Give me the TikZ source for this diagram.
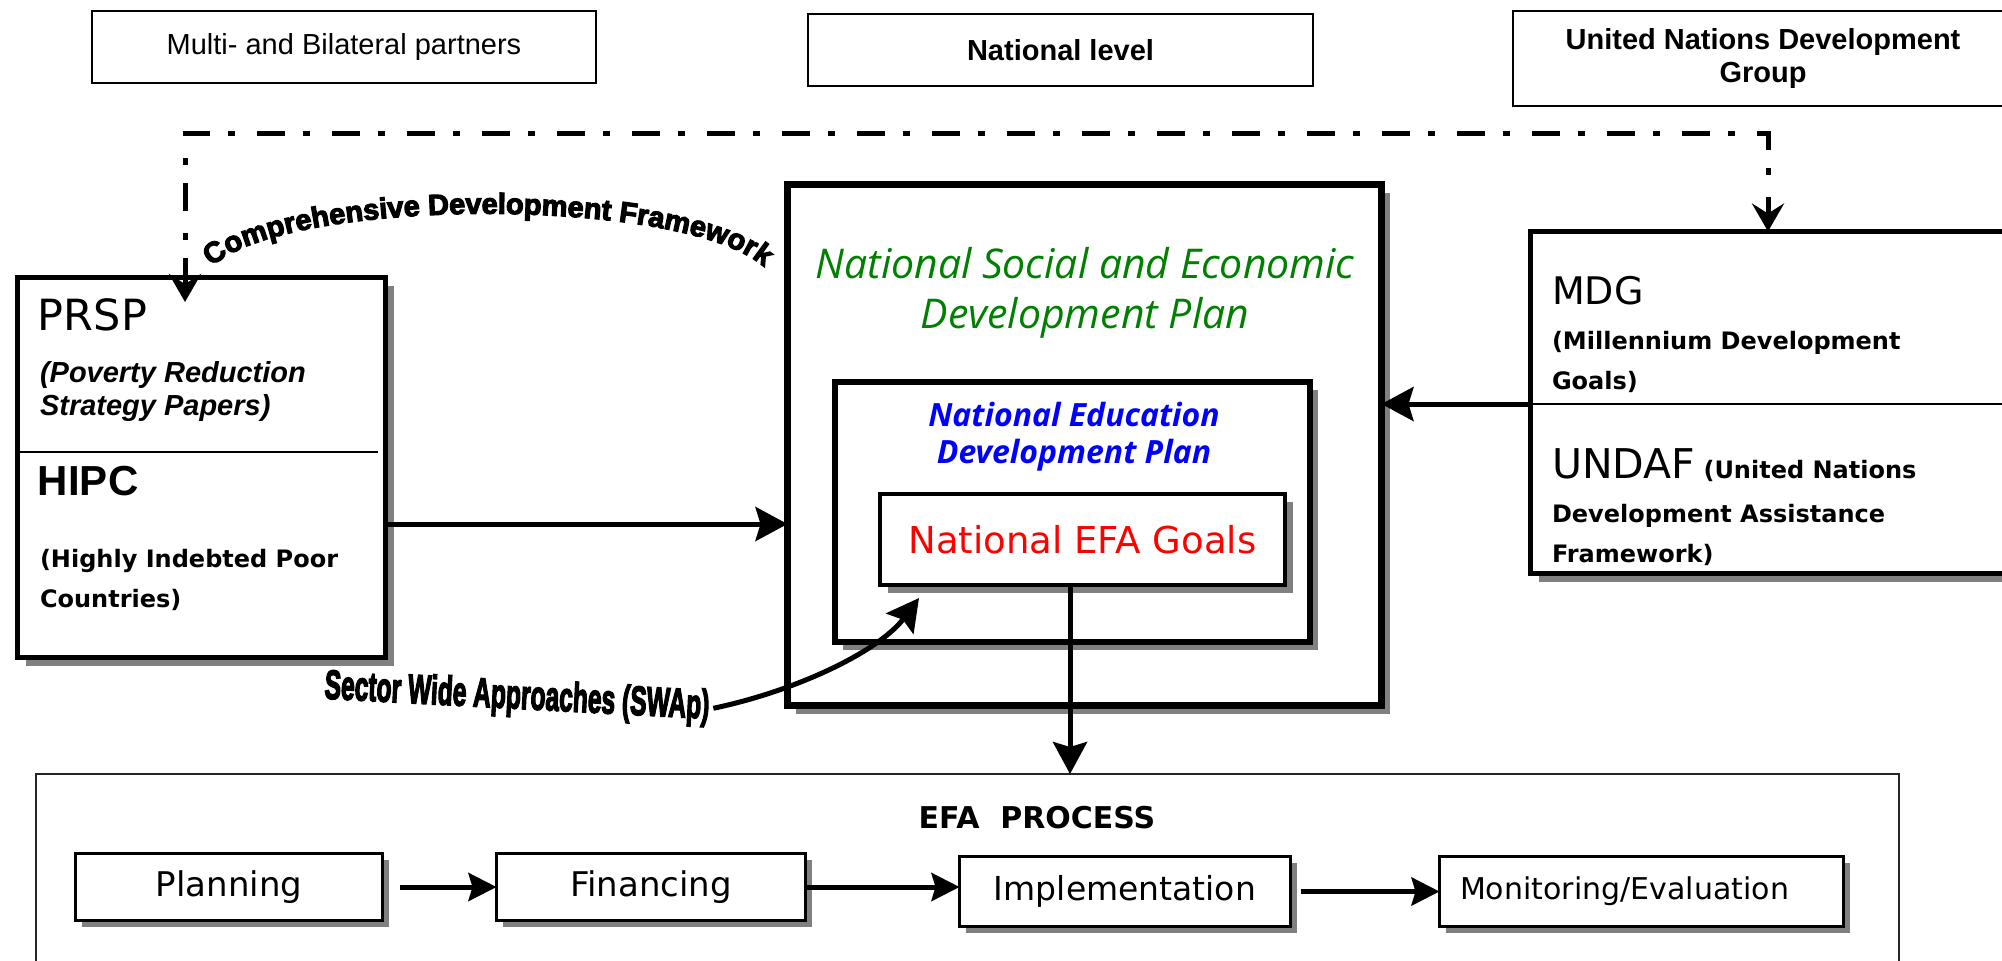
\documentclass[tikz,border=0pt]{standalone}
\usepackage{fontspec}
\usepackage{graphicx}
\setmainfont{Liberation Sans}
\newfontfamily\dvs{DejaVu Sans}
\newfontfamily\osans{Open Sans}
\newfontfamily\heavyfont[FakeBold=4]{Liberation Sans Bold}
\usetikzlibrary{arrows.meta,shadows,decorations.text,calc}
\definecolor{dgreen}{RGB}{0,128,0}
\begin{document}
\begin{tikzpicture}[x=0.5pt,y=-0.5pt,
  every node/.style={inner sep=0pt, outer sep=0pt},
  topbox/.style={draw, line width=1pt, fill=white, align=center},
  shadowed/.style={drop shadow={shadow xshift=4pt, shadow yshift=-4pt, fill=black!50, opacity=1}},
  thickbox/.style={draw, line width=2.5pt, fill=white},
  procbox/.style={draw, line width=1.5pt, fill=white, drop shadow={shadow xshift=3pt, shadow yshift=-3pt, fill=black!50, opacity=1}},
  bigarrow/.style={line width=2.5pt, -{Stealth[length=16pt,width=17pt,inset=2.5pt]}},
  procarrow/.style={line width=2.5pt, -{Stealth[length=14pt,width=14pt,inset=2pt]}},
  dashdot/.style={line width=2.5pt, dash pattern=on 14pt off 9pt on 3.5pt off 11pt},
  lbl/.style={anchor=base west, inner sep=0pt}
]
\useasboundingbox (0,0) rectangle (2002,960);
\clip (0,0) rectangle (2002,960);

% top header boxes
\node[topbox, minimum width=252pt, minimum height=36pt, font=\fontsize{14.5pt}{17pt}\selectfont] (multi) at (344,47) {Multi- and Bilateral partners};
\node[topbox, minimum width=252.5pt, minimum height=36pt, font=\fontsize{14.5pt}{17pt}\selectfont\bfseries] (natlevel) at (1060.5,50) {National level};
\node[topbox, minimum width=250pt, minimum height=47.5pt, font=\fontsize{14.5pt}{16.5pt}\selectfont\bfseries] (undg) at (1763,58.5) {United Nations Development\\Group};

% PRSP / HIPC box
\node[thickbox, shadowed, minimum width=184pt, minimum height=190pt] (prsp) at (201.5,467.5) {};
\node[lbl, font=\dvs\fontsize{21.5pt}{24pt}\selectfont] (prspt) at (38,330) {PRSP};
\node[lbl, font=\fontsize{14.5pt}{17pt}\selectfont\bfseries\itshape] (prspl1) at (40,382) {(Poverty Reduction};
\node[lbl, font=\fontsize{14.5pt}{17pt}\selectfont\bfseries\itshape] (prspl2) at (40,415) {Strategy Papers)};
\draw[line width=0.8pt] (18,452) -- (378,452);
\node[lbl, font=\fontsize{21pt}{24pt}\selectfont\bfseries] (hipc) at (38,495) {HIPC};
\node[lbl, font=\dvs\bfseries\fontsize{12pt}{15pt}\selectfont] (hipcl1) at (40,567) {(Highly Indebted Poor};
\node[lbl, font=\dvs\bfseries\fontsize{12pt}{15pt}\selectfont] (hipcl2) at (40,607) {Countries)};

% National plan boxes
\node[draw, line width=3.5pt, fill=white, shadowed, minimum width=297pt, minimum height=260.5pt] (natl) at (1084.5,445) {};
\node[font=\osans\itshape\fontsize{20.5pt}{25pt}\selectfont, text=dgreen, align=center] (nsedp) at (1085,292.5) {National Social and Economic\\Development Plan};
\node[draw, line width=3pt, fill=white, shadowed, minimum width=237.5pt, minimum height=130pt] (nedp) at (1072.5,512) {};
\node[font=\osans\bfseries\itshape\fontsize{16pt}{18.5pt}\selectfont, text=blue, align=center] (nedpt) at (1074,436.5) {National Education\\Development Plan};
\node[draw, line width=2pt, fill=white, shadowed, minimum width=202.5pt, minimum height=45.5pt, font=\dvs\fontsize{18.5pt}{22pt}\selectfont, text=red] (efagoals) at (1082.5,539.5) {National EFA Goals};

% MDG / UNDAF box
\node[thickbox, shadowed, minimum width=237.5pt, minimum height=171pt] (mdg) at (1768,402.5) {};
\draw[line width=0.8pt] (1530,404) -- (2002,404);
\node[lbl, font=\dvs\fontsize{19pt}{22pt}\selectfont] (mdgt) at (1552,304) {MDG};
\node[lbl, font=\dvs\bfseries\fontsize{12pt}{15pt}\selectfont] (mdgl1) at (1552,349) {(Millennium Development};
\node[lbl, font=\dvs\bfseries\fontsize{12pt}{15pt}\selectfont] (mdgl2) at (1552,389) {Goals)};
\node[lbl, font=\dvs\bfseries\fontsize{12pt}{15pt}\selectfont] (undaf1) at (1552,478) {{\mdseries\fontsize{20.5pt}{24pt}\selectfont UNDAF} (United Nations};
\node[lbl, font=\dvs\bfseries\fontsize{12pt}{15pt}\selectfont] (undaf2) at (1552,522) {Development Assistance};
\node[lbl, font=\dvs\bfseries\fontsize{12pt}{15pt}\selectfont] (undaf3) at (1552,562) {Framework)};

% dash-dot connector
\coordinate (ddtop) at (0,133);
\draw[dashdot, {Stealth[length=14pt,width=16pt,inset=5pt]}-{Stealth[length=14pt,width=16pt,inset=5pt]}]
  ([xshift=-8.25pt,yshift=-12.25pt]prsp.north) |- (mdg.north |- ddtop) -- (mdg.north);

% curved label
\path[decorate, decoration={text along path, text={|\heavyfont\fontsize{14.5pt}{17pt}\selectfont|Comprehensive Development Framework}, text align=center}]
  (200,285) .. controls (225,190) and (748,190) .. (776,285);

% main connectors
\draw[bigarrow] (prsp.east |- 0,524) -- (natl.west |- 0,524);
\draw[bigarrow] (mdg.west |- 0,404) -- (natl.east |- 0,404);

% SWAp
\node[rotate=-3, inner sep=2pt] (swap) at (517,698) {\scalebox{0.6}[1]{\heavyfont\fontsize{20.5pt}{22pt}\selectfont Sector Wide Approaches (SWAp)}};
\coordinate (swaptip) at ([xshift=19.5pt,yshift=-6.5pt]efagoals.south west);
\draw[bigarrow] (swap.east) .. controls (800,690) and (880,650) .. (swaptip);

% EFA process frame
\node[draw=black!85, line width=1pt, minimum width=931.5pt, minimum height=113pt] (proc) at (967.5,887) {};
\node[font=\dvs\bfseries\fontsize{15pt}{18pt}\selectfont] (proct) at (1037,818) {EFA\ \ PROCESS};

\draw[bigarrow] ([xshift=-6.25pt]efagoals.south) -- ([xshift=-6.25pt]efagoals.south |- proc.north);

\node[procbox, minimum width=153.5pt, minimum height=33.5pt, font=\dvs\fontsize{17pt}{20pt}\selectfont] (planning) at (229,887) {Planning};
\node[procbox, minimum width=154.5pt, minimum height=33.5pt, font=\dvs\fontsize{17pt}{20pt}\selectfont] (financing) at (651,887) {Financing};
\node[procbox, minimum width=165.5pt, minimum height=35pt, font=\dvs\fontsize{16.5pt}{20pt}\selectfont] (implementation) at (1125,891.5) {Implementation};
\node[procbox, minimum width=202pt, minimum height=35pt, font=\dvs\fontsize{15pt}{18pt}\selectfont] (monitoring) at (1641.5,891.5) {Monitoring/Evaluation\hspace*{17pt}};

\draw[procarrow, shorten <=8.5pt] (planning.east) -- (financing.west);
\draw[procarrow] (financing.east) -- (financing.east -| implementation.west);
\draw[procarrow, shorten <=5pt] (implementation.east) -- (monitoring.west);
\end{tikzpicture}
\end{document}
